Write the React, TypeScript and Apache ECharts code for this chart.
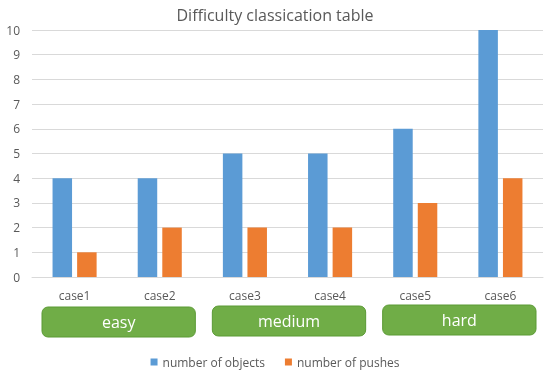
import React, { useEffect, useRef } from "react";
import * as echarts from "echarts";

const categories = ["case1", "case2", "case3", "case4", "case5", "case6"];
const numberOfObjects = [4, 4, 5, 5, 6, 10];
const numberOfPushes = [1, 2, 2, 2, 3, 4];
const groups = [
  { name: "easy", from: 0, to: 1 },
  { name: "medium", from: 2, to: 3 },
  { name: "hard", from: 4, to: 5 },
];
const FONT = "Open Sans";
const TXT = "#595959";

export default function App() {
  const ref = useRef<HTMLDivElement>(null);
  useEffect(() => {
    if (!ref.current) return;
    const chart = echarts.init(ref.current, null, { renderer: "svg" });
    chart.setOption({
      animation: false,
      textStyle: { fontFamily: FONT },
      title: {
        text: "Difficulty classication table",
        left: "center",
        top: 2,
        textStyle: { fontFamily: FONT, fontSize: 16, fontWeight: "normal", color: TXT },
      },
      grid: { left: 32, right: 7, top: 30, bottom: 99 },
      legend: {
        top: 351,
        left: "center",
        itemWidth: 7,
        itemHeight: 7,
        itemGap: 20,
        icon: "rect",
        textStyle: { fontFamily: FONT, fontSize: 12, color: TXT },
        data: ["number of objects", "number of pushes"],
      },
      xAxis: {
        type: "category",
        data: categories,
        axisLine: { lineStyle: { color: "#d9d9d9" } },
        axisTick: { show: false },
        axisLabel: { color: TXT, fontSize: 12, margin: 12, fontFamily: FONT },
      },
      yAxis: {
        type: "value",
        min: 0,
        max: 10,
        interval: 1,
        axisLabel: { color: TXT, fontSize: 12, margin: 12, fontFamily: FONT },
        splitLine: { lineStyle: { color: "#d9d9d9" } },
      },
      series: [
        {
          name: "number of objects",
          type: "bar",
          data: numberOfObjects,
          barWidth: 19.5,
          barGap: "26%",
          itemStyle: { color: "#5b9bd5" },
        },
        {
          name: "number of pushes",
          type: "bar",
          data: numberOfPushes,
          barWidth: 19.5,
          itemStyle: { color: "#ed7d31" },
        },
      ],
    });
    const step =
      (chart.convertToPixel({ xAxisIndex: 0 }, 1) as number) -
      (chart.convertToPixel({ xAxisIndex: 0 }, 0) as number);
    const graphic = groups.map((g, i) => {
      const x0 = (chart.convertToPixel({ xAxisIndex: 0 }, g.from) as number) - step / 2 + 10;
      const x1 = (chart.convertToPixel({ xAxisIndex: 0 }, g.to) as number) + step / 2 - 7;
      const y = 307 - i;
      return {
        type: "group",
        children: [
          {
            type: "rect",
            shape: { x: x0, y, width: x1 - x0, height: 30, r: 6 },
            style: { fill: "#70ad47", stroke: "#5b9a35", lineWidth: 1 },
          },
          {
            type: "text",
            x: (x0 + x1) / 2,
            y: y + 15,
            style: {
              text: g.name,
              fill: "#ffffff",
              fontSize: 16,
              fontFamily: FONT,
              align: "center",
              verticalAlign: "middle",
            },
          },
        ],
      };
    });
    chart.setOption({ graphic });
    return () => chart.dispose();
  }, []);
  return <div ref={ref} style={{ width: 550, height: 376, position: "fixed", left: 0, top: 0 }} />;
}
